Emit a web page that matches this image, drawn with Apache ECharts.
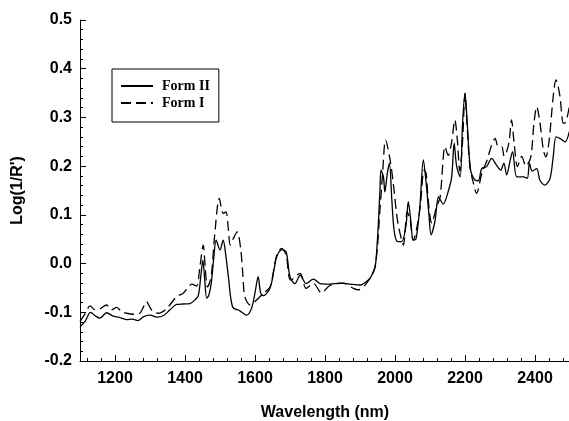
<!DOCTYPE html>
<html>
<head>
<meta charset="utf-8">
<script src="https://cdn.jsdelivr.net/npm/echarts@6/dist/echarts.min.js"></script>
<style>html,body{margin:0;padding:0;background:#fff}#c{width:569px;height:421px}</style>
</head>
<body>
<div id="c"></div>
<script>
var xTicks = [1200, 1400, 1600, 1800, 2000, 2200, 2400];
var yTicks = [-0.2, -0.1, 0.0, 0.1, 0.2, 0.3, 0.4, 0.5];
var xMinorStep = 40;

var formIIWl = [1100,1115,1130,1145,1157,1176,1195,1210,1233,1250,1265,1282,1300,1320,1340,1357,1376,1395,1414,1428,1438,1446,1451,1456,1462,1468,1475,1482,1489,1500,1509,1516,1524,1536,1557,1576,1590,1600,1609,1616,1624,1643,1655,1662,1676,1689,1700,1714,1729,1746,1767,1786,1814,1843,1870,1900,1920,1929,1943,1948,1952,1957,1960,1967,1971,1978,1984,1991,1998,2008,2019,2031,2038,2045,2052,2060,2071,2081,2090,2097,2103,2114,2124,2130,2138,2152,2162,2169,2176,2186,2193,2200,2207,2216,2229,2238,2248,2262,2276,2290,2302,2311,2319,2330,2336,2348,2367,2378,2384,2392,2405,2414,2428,2443,2452,2460,2471,2486,2498];
var formIIVal = [-0.130,-0.118,-0.100,-0.108,-0.112,-0.101,-0.108,-0.110,-0.115,-0.114,-0.117,-0.109,-0.106,-0.110,-0.106,-0.095,-0.084,-0.083,-0.082,-0.075,-0.066,-0.020,0.007,-0.030,-0.071,-0.065,-0.040,0.010,0.048,0.028,0.048,0.020,-0.027,-0.089,-0.097,-0.106,-0.092,-0.060,-0.027,-0.060,-0.066,-0.050,-0.010,0.014,0.028,0.024,-0.027,-0.041,-0.024,-0.041,-0.032,-0.041,-0.042,-0.040,-0.042,-0.044,-0.036,-0.030,-0.007,0.030,0.076,0.150,0.192,0.178,0.147,0.185,0.206,0.130,0.065,0.045,0.045,0.076,0.127,0.089,0.048,0.050,0.117,0.213,0.158,0.100,0.059,0.086,0.137,0.130,0.122,0.148,0.178,0.247,0.200,0.178,0.288,0.350,0.281,0.192,0.171,0.170,0.195,0.199,0.216,0.202,0.192,0.206,0.182,0.215,0.230,0.178,0.178,0.175,0.206,0.190,0.195,0.171,0.161,0.175,0.219,0.260,0.257,0.250,0.271];

var formIWl = [1100,1113,1129,1143,1157,1176,1190,1205,1219,1233,1252,1271,1282,1290,1300,1309,1324,1348,1376,1395,1410,1419,1433,1442,1452,1458,1464,1470,1476,1485,1498,1509,1517,1524,1529,1537,1549,1559,1565,1571,1586,1600,1624,1643,1662,1676,1689,1702,1729,1746,1767,1790,1814,1852,1881,1895,1919,1943,1957,1965,1973,1986,1995,2007,2019,2024,2035,2043,2052,2071,2083,2089,2095,2105,2119,2129,2143,2152,2162,2171,2178,2185,2193,2200,2205,2214,2224,2233,2248,2262,2276,2286,2295,2305,2312,2319,2326,2333,2340,2350,2362,2374,2388,2397,2405,2414,2424,2431,2440,2452,2460,2471,2481,2488,2498];
var formIVal = [-0.119,-0.105,-0.087,-0.095,-0.093,-0.085,-0.095,-0.090,-0.099,-0.102,-0.104,-0.102,-0.088,-0.078,-0.090,-0.099,-0.102,-0.092,-0.068,-0.061,-0.048,-0.042,-0.046,-0.010,0.038,-0.010,-0.048,-0.040,-0.020,0.060,0.134,0.103,0.106,0.070,0.038,0.050,0.065,0.031,-0.020,-0.068,-0.085,-0.078,-0.061,-0.048,0.017,0.031,0.017,-0.034,-0.020,-0.051,-0.041,-0.060,-0.045,-0.040,-0.051,-0.054,-0.040,-0.007,0.110,0.190,0.254,0.213,0.165,0.089,0.048,0.038,0.106,0.090,0.048,0.110,0.192,0.185,0.130,0.083,0.117,0.137,0.240,0.222,0.250,0.295,0.255,0.190,0.250,0.349,0.295,0.199,0.165,0.144,0.185,0.210,0.243,0.257,0.240,0.240,0.220,0.230,0.250,0.295,0.250,0.199,0.220,0.200,0.219,0.288,0.322,0.290,0.233,0.219,0.250,0.343,0.377,0.345,0.288,0.290,0.322];

function pairs(xs, ys) { return xs.map(function (x, i) { return [x, ys[i]]; }); }

var X_MIN = 1100, X_MAX = 2500;
var xMinor = [];
for (var t = xTicks[0] - xMinorStep * Math.floor((xTicks[0] - X_MIN) / xMinorStep); t <= X_MAX; t += xMinorStep) {
  if (xTicks.indexOf(t) < 0) xMinor.push(t);
}

var chart = echarts.init(document.getElementById('c'), null, {renderer: 'canvas'});
var axisFont = {fontFamily: 'Liberation Sans, Arial, sans-serif', fontWeight: 'bold', fontSize: 16, color: '#000'};
chart.setOption({
  animation: false,
  backgroundColor: '#fff',
  grid: {left: 80, top: 20, width: 490, height: 341, containLabel: false, outerBoundsMode: 'none'},
  legend: {
    left: 112, top: 69, orient: 'vertical',
    backgroundColor: '#fff', borderColor: '#000', borderWidth: 1,
    padding: [10, 9, 12, 8], itemGap: 3, itemWidth: 32, itemHeight: 14,
    itemStyle: {opacity: 0},
    textStyle: {fontFamily: 'Liberation Serif, Times New Roman, serif', fontWeight: 'bold', fontSize: 14, color: '#000', padding: [0, 0, 0, 4]},
    data: ['Form II', 'Form I']
  },
  xAxis: [{
    type: 'value', min: X_MIN, max: X_MAX,
    name: 'Wavelength (nm)', nameLocation: 'middle', nameGap: 44,
    nameTextStyle: axisFont,
    axisLine: {show: true, onZero: false, lineStyle: {color: '#000', width: 1}},
    axisTick: {show: true, inside: true, length: 6, customValues: xTicks, lineStyle: {color: '#000'}},
    axisLabel: Object.assign({margin: 10, customValues: xTicks, formatter: function (v) { return String(v); }}, axisFont),
    splitLine: {show: false}
  }, {
    type: 'value', min: X_MIN, max: X_MAX, position: 'bottom',
    axisLine: {show: false, onZero: false},
    axisTick: {show: true, inside: true, length: 3, customValues: xMinor, lineStyle: {color: '#000'}},
    axisLabel: {show: false},
    splitLine: {show: false}
  }],
  yAxis: {
    type: 'value', min: -0.2, max: 0.5, interval: 0.1,
    name: "Log(1/R')", nameLocation: 'middle', nameGap: 54,
    nameTextStyle: axisFont,
    axisLine: {show: true, onZero: false, lineStyle: {color: '#000', width: 1}},
    axisTick: {show: true, inside: true, length: 6, lineStyle: {color: '#000'}},
    minorTick: {show: true, splitNumber: 5, length: 3, lineStyle: {color: '#000'}},
    axisLabel: Object.assign({margin: 8, formatter: function (v) { return v.toFixed(1); }}, axisFont),
    splitLine: {show: false}
  },
  series: [
    {name: 'Form II', type: 'line', data: pairs(formIIWl, formIIVal), symbol: 'none', smooth: 0.3,
      lineStyle: {color: '#000', width: 1.3, type: 'solid'}, itemStyle: {color: '#000'}},
    {name: 'Form I', type: 'line', data: pairs(formIWl, formIVal), symbol: 'none', smooth: 0.3,
      lineStyle: {color: '#000', width: 1.3, type: [10, 5]}, itemStyle: {color: '#000'}}
  ]
});
</script>
</body>
</html>
